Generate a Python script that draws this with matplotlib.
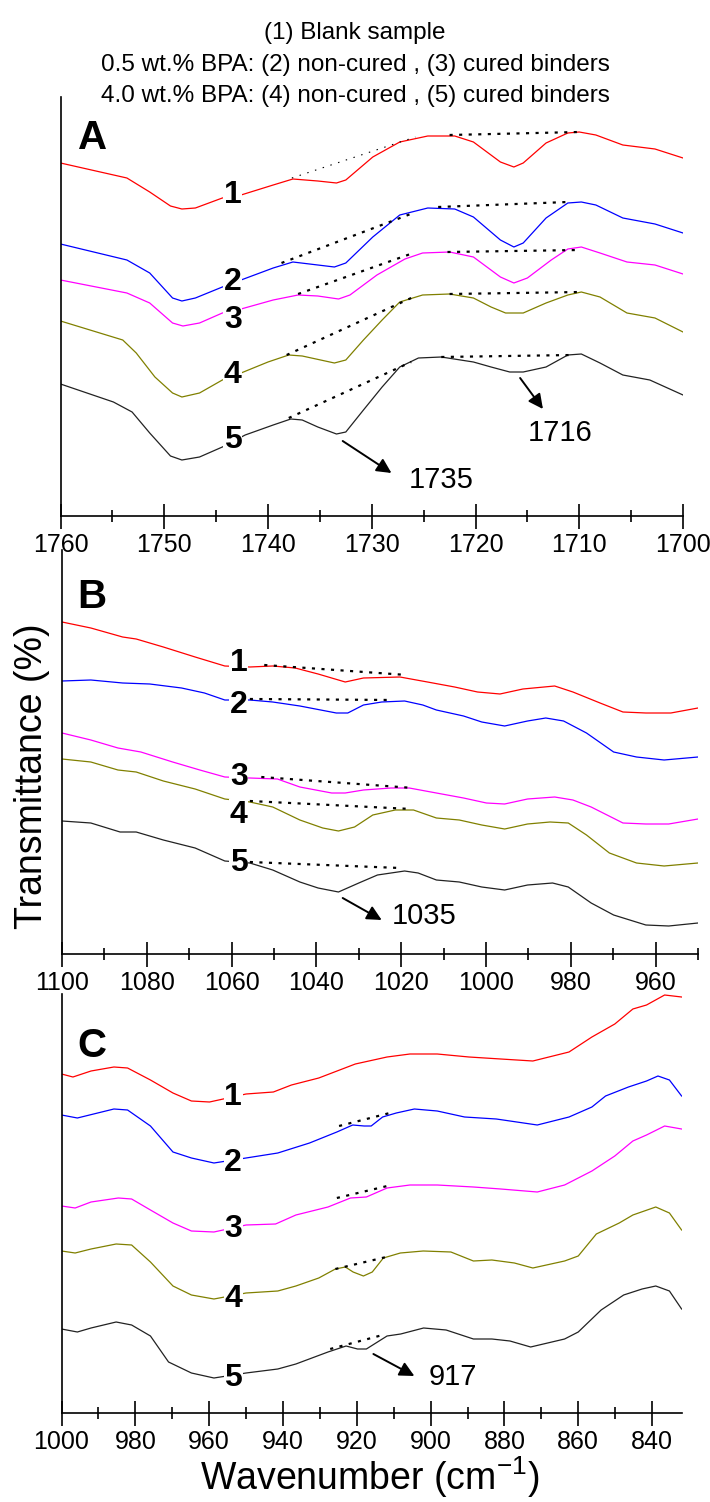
import matplotlib as mpl
mpl.use('Agg')
import matplotlib.pyplot as plt
from matplotlib.ticker import MultipleLocator

plt.rcParams['font.family'] = ['Liberation Sans', 'DejaVu Sans']
plt.rcParams['mathtext.default'] = 'regular'

# ---- data (transmittance in arbitrary units) ----
colors = ['#ff0000', '#0000ff', '#ff00ff', '#808000', '#222222']
curve_names = ['1', '2', '3', '4', '5']

# Panel A: 1760-1700 cm-1
a1_wn = [1760, 1753.6, 1751.4, 1749.4, 1748.3, 1747.0, 1744.4, 1742.6, 1739.5, 1737.6, 1735.2, 1733.4, 1732.5, 1729.9,
         1727.3, 1724.6, 1722.0, 1720.2, 1717.6, 1716.3, 1715.4, 1713.2, 1711.1, 1710.0, 1708.4, 1705.8, 1702.7, 1700]
a1_t = [353, 338, 324, 310, 307, 308, 318, 321, 331, 337, 335, 333, 336, 359,
        374, 380, 380, 374, 354, 349, 353, 373, 383, 384, 381, 371, 367, 358]
a2_wn = [1760, 1753.6, 1751.4, 1749.2, 1748.3, 1747.0, 1744.4, 1742.6, 1739.5, 1737.6, 1735.2, 1733.6, 1732.5, 1729.9,
         1727.3, 1724.6, 1722.0, 1720.2, 1717.6, 1716.3, 1715.4, 1713.2, 1711.1, 1709.8, 1708.4, 1705.8, 1702.7, 1700]
a2_t = [272, 256, 243, 218, 215, 218, 229, 236, 248, 254, 251, 249, 253, 279,
        301, 308, 307, 299, 276, 269, 273, 298, 313, 314, 311, 298, 292, 283]
a3_wn = [1760, 1753.6, 1751.4, 1749.2, 1748.2, 1746.6, 1744.4, 1742.6, 1739.5, 1737.1, 1735.2, 1733.2, 1732.1, 1729.5,
         1726.8, 1725.1, 1722.5, 1720.2, 1717.6, 1716.3, 1715.0, 1712.7, 1711.1, 1709.8, 1708.0, 1705.4, 1702.7, 1700]
a3_t = [236, 223, 213, 193, 190, 193, 203, 207, 216, 221, 220, 217, 221, 241,
        257, 263, 264, 259, 239, 233, 238, 256, 267, 269, 263, 254, 251, 242]
a4_wn = [1760, 1754.0, 1752.7, 1750.9, 1749.2, 1748.3, 1746.6, 1744.4, 1742.6, 1740.0, 1738.0, 1736.7, 1733.6, 1732.5,
         1730.8, 1729.0, 1727.3, 1725.1, 1722.5, 1720.2, 1718.5, 1717.1, 1715.4, 1713.2, 1711.1, 1709.8, 1708.0,
         1705.4, 1702.7, 1700]
a4_t = [195, 176, 163, 139, 123, 119, 123, 136, 143, 154, 161, 160, 153, 156,
        176, 196, 214, 221, 222, 218, 209, 203, 203, 213, 221, 224, 219, 203, 198, 184]
a5_wn = [1760, 1754.9, 1753.1, 1751.4, 1749.4, 1748.3, 1746.6, 1744.4, 1742.2, 1739.5, 1737.8, 1736.7, 1735.2, 1733.4,
         1732.5, 1730.8, 1729.0, 1727.3, 1725.5, 1723.3, 1720.2, 1718.5, 1716.7, 1715.4, 1713.2, 1711.1, 1709.8,
         1708.0, 1705.8, 1703.2, 1700]
a5_t = [132, 114, 104, 83, 60, 56, 59, 69, 81, 91, 97, 96, 89, 82,
        84, 106, 129, 149, 158, 159, 154, 149, 144, 144, 149, 161, 162, 153, 141, 136, 121]
# baselines (wn0, t0, wn1, t1) drawn dotted
a_base1 = [(1738.7, 253, 1726.0, 303), (1737.1, 222, 1726.0, 263), (1738.2, 161, 1726.2, 218), (1738.0, 98, 1726.2, 154)]
a_base1_thin = (1737.7, 338, 1725.8, 379)
a_base2 = [(1722.5, 381, 1710.0, 384), (1723.6, 309, 1711.1, 314), (1722.7, 264, 1710.0, 266),
           (1722.5, 222, 1709.8, 224), (1723.3, 159, 1710.6, 161)]
a_label_wn = 1743.4
a_label_t = [321, 234, 196, 141, 76]

# Panel B: 1100-950 cm-1
b1_wn = [1100, 1093.2, 1085.7, 1082.5, 1076.1, 1068.6, 1061.6, 1055.7, 1050.3, 1045.0, 1039.6, 1033.2, 1028.9,
         1020.3, 1013.8, 1007.4, 1002.0, 996.7, 991.3, 983.8, 979.5, 973.1, 967.7, 962.3, 956.4, 950]
b1_t = [332, 326, 317, 315, 307, 297, 288, 287, 288, 286, 280, 272, 276,
        277, 272, 267, 262, 260, 265, 268, 262, 251, 242, 241, 241, 246]
b2_wn = [1100, 1093.2, 1085.7, 1079.3, 1071.8, 1066.4, 1061.6, 1055.7, 1050.3, 1043.9, 1035.3, 1032.6, 1028.9,
         1024.6, 1019.2, 1014.9, 1011.7, 1005.3, 1001.0, 995.6, 990.2, 985.9, 981.7, 976.3, 969.9, 964.5, 958.0, 950]
b2_t = [273, 274, 271, 270, 266, 261, 254, 254, 252, 248, 241, 241, 249,
        252, 253, 249, 244, 238, 232, 228, 233, 236, 233, 221, 202, 197, 194, 197]
b3_wn = [1100, 1093.2, 1086.8, 1081.4, 1073.9, 1067.5, 1061.6, 1055.7, 1049.2, 1043.9, 1036.4, 1033.2, 1028.9,
         1022.4, 1018.1, 1011.7, 1005.3, 999.9, 995.6, 990.2, 983.8, 979.5, 975.2, 967.7, 962.3, 956.9, 950]
b3_t = [221, 214, 206, 202, 192, 184, 177, 176, 175, 167, 161, 161, 164,
        166, 166, 161, 156, 151, 150, 155, 157, 154, 147, 131, 130, 130, 135]
b4_wn = [1100, 1093.2, 1086.8, 1082.5, 1076.1, 1068.6, 1061.6, 1055.7, 1050.3, 1043.9, 1038.5, 1034.8, 1031.0,
         1026.7, 1021.4, 1017.1, 1011.7, 1006.3, 1001.0, 995.6, 990.2, 984.9, 980.6, 976.3, 970.9, 964.5, 958.0, 950]
b4_t = [195, 192, 184, 182, 173, 165, 155, 152, 147, 134, 126, 123, 127,
        139, 144, 144, 136, 134, 129, 125, 130, 132, 131, 119, 101, 91, 88, 91]
b5_wn = [1100, 1093.2, 1086.3, 1082.5, 1076.1, 1068.6, 1061.6, 1055.7, 1050.3, 1043.9, 1039.6, 1034.8, 1030.0,
         1025.6, 1019.2, 1016.0, 1011.7, 1006.3, 1001.0, 995.6, 990.2, 984.3, 980.6, 975.2, 969.9, 962.3, 956.9, 950]
b5_t = [133, 131, 122, 122, 114, 106, 93, 91, 84, 72, 66, 62, 71,
        79, 83, 81, 74, 72, 67, 64, 69, 71, 67, 51, 39, 29, 28, 31]
b_base = [(1052.3, 289, 1018.6, 279), (1055.7, 255, 1022.0, 254), (1053.0, 177, 1017.1, 166),
          (1055.7, 153, 1017.6, 145), (1055.7, 92, 1020.3, 86)]
b_label_wn = 1058.3
b_label_t = [291, 249, 177, 139, 91]

# Panel C: 1000-832 cm-1
c1_wn = [1000, 996.9, 992.0, 985.8, 982.1, 975.9, 969.8, 964.8, 959.9, 950.0, 942.6, 937.7, 930.3, 920.4,
         911.8, 905.6, 898.2, 889.6, 881.0, 872.3, 862.5, 856.3, 850.1, 845.2, 841.5, 836.6, 832]
c1_t = [339, 336, 342, 346, 345, 333, 320, 312, 311, 319, 321, 328, 335, 349,
        356, 359, 359, 356, 354, 352, 361, 376, 389, 404, 408, 418, 416]
c2_wn = [1000, 995.7, 985.8, 982.1, 975.9, 969.8, 964.8, 958.7, 950.0, 941.4, 932.8, 925.4, 921.1, 918.0, 916.1,
         913.0, 909.3, 904.4, 898.2, 890.8, 882.2, 871.1, 862.5, 856.3, 852.6, 846.4, 841.5, 838.4, 835.3, 832]
c2_t = [298, 295, 304, 303, 287, 261, 255, 250, 255, 260, 270, 281, 288, 287, 287,
        296, 300, 304, 302, 296, 294, 288, 296, 306, 317, 326, 332, 337, 333, 317]
c3_wn = [1000, 996.3, 992.0, 984.6, 981.0, 975.9, 969.8, 964.8, 958.7, 950.0, 942.0, 936.5, 927.8, 921.7,
         917.4, 911.8, 905.6, 898.2, 888.4, 881.0, 871.1, 863.7, 856.3, 850.1, 845.2, 841.5, 836.6, 832]
c3_t = [207, 205, 211, 215, 214, 203, 190, 182, 181, 188, 189, 198, 206, 215,
        216, 225, 228, 228, 226, 224, 221, 228, 242, 257, 272, 278, 287, 284]
c4_wn = [1000, 996.3, 992.0, 985.2, 981.0, 975.9, 969.8, 964.8, 958.7, 950.0, 941.4, 936.5, 930.3, 925.8, 923.1,
         921.0, 918.2, 915.8, 912.8, 908.2, 902.0, 894.5, 888.4, 883.4, 877.3, 872.3, 863.7, 860.0, 855.1, 848.9,
         845.2, 839.0, 835.3, 832]
c4_t = [162, 160, 164, 169, 168, 151, 127, 118, 114, 120, 122, 127, 135, 144, 146,
        141, 137, 141, 155, 160, 162, 161, 152, 153, 150, 145, 152, 157, 179, 190,
        198, 206, 200, 183]
c5_wn = [1000, 995.7, 992.0, 985.2, 981.0, 975.9, 971.0, 964.8, 958.7, 950.0, 941.4, 936.5, 927.8, 922.9, 919.8,
         917.4, 911.8, 908.1, 901.9, 895.8, 888.4, 883.4, 878.5, 872.9, 863.7, 860.0, 853.8, 847.7, 842.7, 839.0,
         835.3, 832]
c5_t = [84, 81, 85, 91, 88, 77, 51, 40, 35, 40, 44, 49, 61, 67, 64,
        64, 77, 79, 85, 83, 74, 74, 72, 66, 74, 81, 103, 118, 124, 127,
        122, 104]
c_base = [(924.8, 287, 910.0, 301), (925.4, 215, 910.6, 228), (925.8, 144, 912.0, 156), (927.2, 64, 913.0, 78)]
c_label_wn = 953.5
c_label_t = [316, 250, 184, 114, 35]

# peak annotations: (text, arrow start wn, t, arrow end wn, t, text wn, t)
a_peaks = [('1735', 1732.8, 75, 1728.1, 43, 1723.3, 36), ('1716', 1715.7, 138, 1713.5, 107, 1711.8, 83)]
b_peaks = [('1035', 1033.8, 56, 1024.6, 34, 1014.7, 38)]
c_peaks = [('917', 915.5, 59, 904.4, 37, 894.1, 36)]

title_lines = ['(1) Blank sample',
               '0.5 wt.% BPA: (2) non-cured , (3) cured binders',
               '4.0 wt.% BPA: (4) non-cured , (5) cured binders']

# ---- figure ----
W, H = 710, 1502
fig = plt.figure(figsize=(W / 100, H / 100), dpi=100)
fig.patch.set_facecolor('white')


def make_axes(l, t, r, b):
    return fig.add_axes([l / W, 1 - b / H, (r - l) / W, (b - t) / H])


dot_thick = (0, (1.4, 2.9))


def panel(ax, wns, ts, xlim, ylim, major, minor, letter, letter_xy, label_wn, label_t, bases, peaks):
    for wn, t, c in zip(wns, ts, colors):
        ax.plot(wn, t, color=c, lw=0.9, zorder=2, solid_joinstyle='round')
    for (x0, y0, x1, y1) in bases:
        ax.plot([x0, x1], [y0, y1], color='black', lw=1.6, linestyle=dot_thick, zorder=3)
    for name, t in zip(curve_names, label_t):
        ax.text(label_wn, t, name, fontsize=23, fontweight='bold', ha='center', va='center',
                bbox=dict(facecolor='white', edgecolor='none', pad=0.5), zorder=4)
    for txt, x0, y0, x1, y1, tx, ty in peaks:
        ax.annotate('', xy=(x1, y1), xytext=(x0, y0),
                    arrowprops=dict(arrowstyle='-|>', color='black', lw=1.4, mutation_scale=22,
                                    shrinkA=0, shrinkB=0))
        ax.text(tx, ty, txt, fontsize=21, ha='center', va='center')
    ax.text(letter_xy[0], letter_xy[1], letter, transform=ax.transAxes, fontsize=29,
            fontweight='bold', ha='center', va='center')
    ax.set_xlim(xlim)
    ax.set_ylim(ylim)
    ax.xaxis.set_major_locator(MultipleLocator(major))
    ax.xaxis.set_minor_locator(MultipleLocator(minor))
    ax.tick_params(axis='x', which='major', direction='inout', length=18, width=1.2, labelsize=18, pad=3)
    ax.tick_params(axis='x', which='minor', direction='inout', length=9, width=1.2)
    ax.set_yticks([])
    for s in ['top', 'right']:
        ax.spines[s].set_visible(False)
    for s in ['left', 'bottom']:
        ax.spines[s].set_linewidth(1.2)
    ax.patch.set_alpha(0)


axA = make_axes(60.5, 97, 683, 516)
panel(axA, [a1_wn, a2_wn, a3_wn, a4_wn, a5_wn], [a1_t, a2_t, a3_t, a4_t, a5_t],
      (1760, 1700), (0, 419), 10, 5, 'A', (0.051, 0.902), a_label_wn, a_label_t, a_base1 + a_base2, a_peaks)
axA.plot([a_base1_thin[0], a_base1_thin[2]], [a_base1_thin[1], a_base1_thin[3]],
         color='black', lw=0.8, linestyle=(0, (1.3, 6)), zorder=3)

axB = make_axes(62, 550, 698, 954)
panel(axB, [b1_wn, b2_wn, b3_wn, b4_wn, b5_wn], [b1_t, b2_t, b3_t, b4_t, b5_t],
      (1100, 950), (0, 404), 20, 10, 'B', (0.047, 0.884), b_label_wn, b_label_t, b_base, b_peaks)

axC = make_axes(61.5, 994, 681.6, 1413)
panel(axC, [c1_wn, c2_wn, c3_wn, c4_wn, c5_wn], [c1_t, c2_t, c3_t, c4_t, c5_t],
      (1000, 832), (0, 419), 20, 10, 'C', (0.049, 0.876), c_label_wn, c_label_t, c_base, c_peaks)

for i, line in enumerate(title_lines):
    fig.text(355 / W, 1 - (33 + 31.5 * i) / H, line, fontsize=17.5, ha='center', va='center')

fig.text(32 / W, 1 - 776 / H, 'Transmittance (%)', fontsize=27, rotation=90, ha='center', va='center')
fig.text(370 / W, 1 - 1477 / H, 'Wavenumber (cm$^{-1}$)', fontsize=27, ha='center', va='center')

fig.savefig('out.png', dpi=100, facecolor='white')
